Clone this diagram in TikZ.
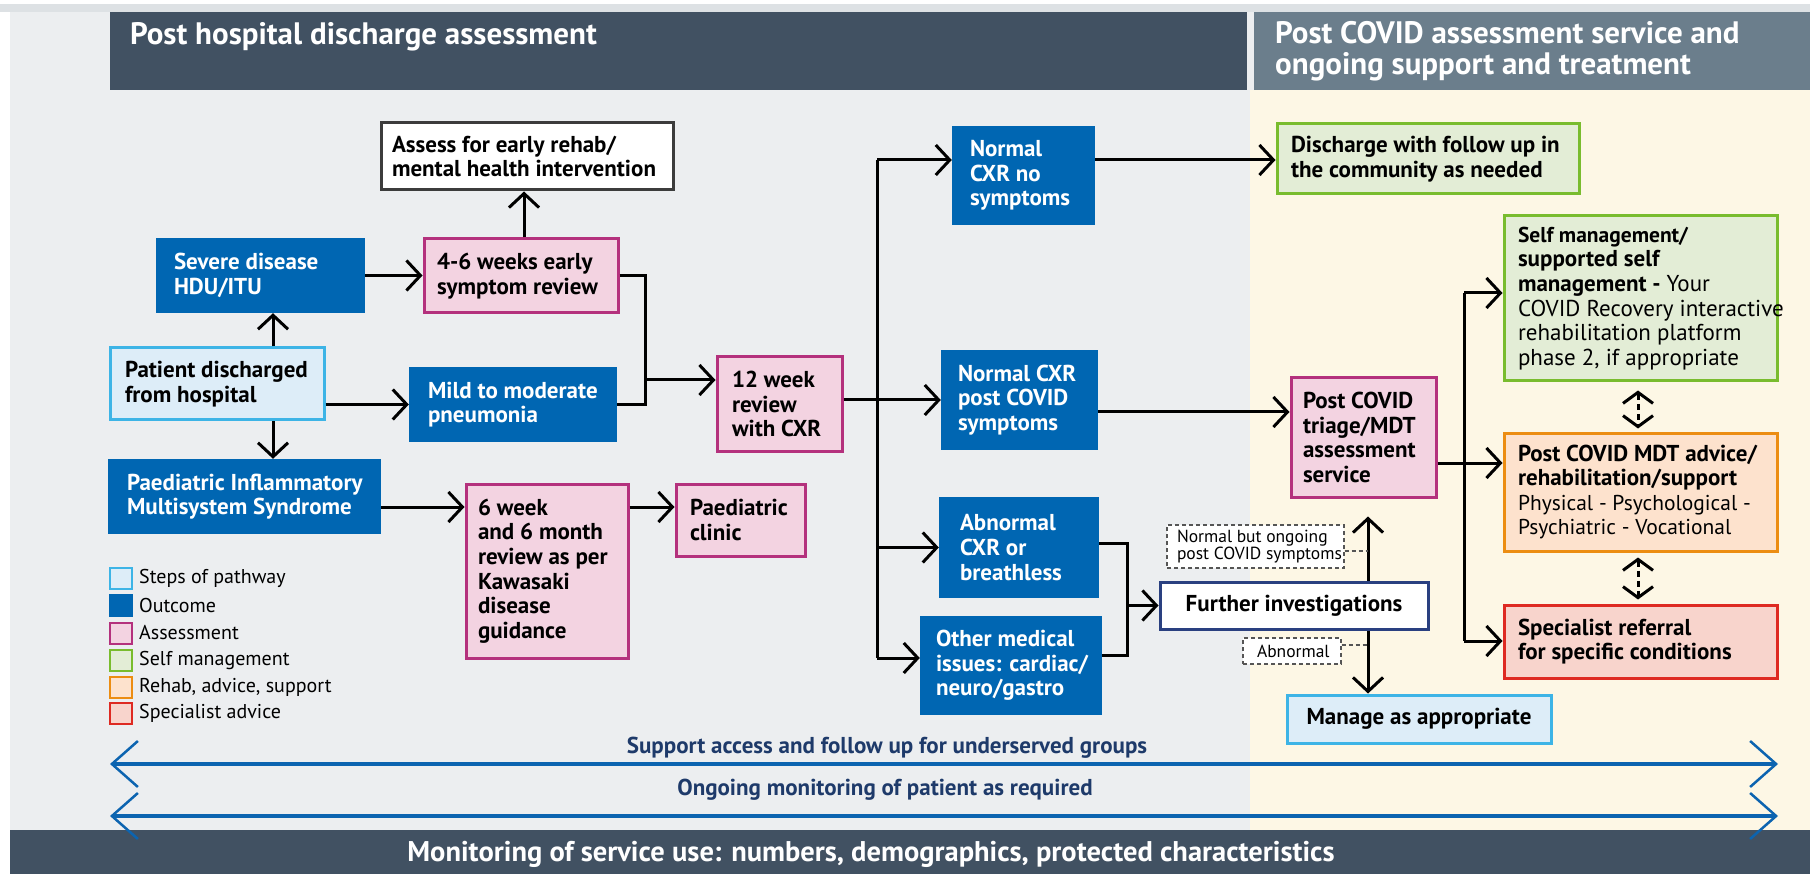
\documentclass[tikz,border=0pt]{standalone}
\usepackage{fontspec}
\setmainfont{PT Sans}
\usetikzlibrary{arrows.meta}
\definecolor{slate}{HTML}{415162}
\definecolor{slatetwo}{HTML}{6B7E8C}
\definecolor{bggrey}{HTML}{ECEEF0}
\definecolor{cream}{HTML}{FDF7E5}
\definecolor{topstrip}{HTML}{DDE1E4}
\definecolor{nhsblue}{HTML}{0066B2}
\definecolor{pinkf}{HTML}{F3D3E1}
\definecolor{pinkd}{HTML}{B4317D}
\definecolor{lbluef}{HTML}{DDEDF8}
\definecolor{lblued}{HTML}{3DB4E6}
\definecolor{greenf}{HTML}{E3EDD6}
\definecolor{greend}{HTML}{79BC2E}
\definecolor{orangef}{HTML}{FDE2CD}
\definecolor{oranged}{HTML}{EC8D12}
\definecolor{redf}{HTML}{F8D4CC}
\definecolor{redd}{HTML}{DE2A22}
\definecolor{navyd}{HTML}{2A4080}
\definecolor{greybd}{HTML}{3C3C3C}
\definecolor{dashgrey}{HTML}{555555}
\definecolor{arrowblue}{HTML}{0C64B0}
\definecolor{labelnavy}{HTML}{1E3A6A}
\newcommand\bxf{\fontsize{23}{24.6}\selectfont\bfseries}
\newcommand\rgf{\mdseries}
\newcommand\smf{\fontsize{21.5}{23.7}\selectfont\bfseries}
\newcommand\dlf{\fontsize{17.5}{15.5}\selectfont}
\newcommand\lgf{\fontsize{20}{20}\selectfont}
\newcommand\mybox[8]{%
  \pgfmathsetmacro\mbw{#5-#3}%
  \pgfmathsetmacro\mbh{#6-#4}%
  \pgfmathsetmacro\mbx{(#3+#5)/2}%
  \pgfmathsetmacro\mby{(#4+#6)/2}%
  \node[#1, inner sep=0pt, minimum width=\mbw pt, minimum height=\mbh pt] (#2) at (\mbx,\mby) {};
  \node[#1, fill=none, draw=none, inner sep=0pt, anchor=west, align=left] (#2-t) at ([xshift=#7pt]#2.west) {#8};}
\tikzset{
 basebx/.style={font=\bxf, text=black},
 outc/.style={basebx, fill=nhsblue, text=white},
 assessbx/.style={basebx, fill=pinkf, draw=pinkd, line width=3pt},
 stepbx/.style={basebx, fill=lbluef, draw=lblued, line width=3pt},
 selfbx/.style={basebx, fill=greenf, draw=greend, line width=3pt},
 rehabbx/.style={basebx, fill=orangef, draw=oranged, line width=3pt},
 specbx/.style={basebx, fill=redf, draw=redd, line width=3pt},
 plainbx/.style={basebx, fill=white, draw=greybd, line width=3pt},
 invbx/.style={basebx, fill=white, draw=navyd, line width=3pt},
 dlab/.style={font=\dlf, text=black, fill=white, draw=dashgrey, line width=1.2pt, dash pattern=on 4pt off 3pt},
 conn/.style={draw=black, line width=3pt, -{Straight Barb[length=14pt,width=30pt]}},
 wire/.style={draw=black, line width=3pt},
 dwire/.style={draw=dashgrey, line width=1.2pt, dash pattern=on 4pt off 3pt},
 ddarr/.style={draw=black, line width=3pt, dash pattern=on 6pt off 4pt, {Straight Barb[length=11pt,width=30pt]}-{Straight Barb[length=11pt,width=30pt]}},
 bigarr/.style={draw=arrowblue, line width=4.5pt, {Straight Barb[length=26pt,width=46pt,line width=2.5pt]}-{Straight Barb[length=26pt,width=46pt,line width=2.5pt]}},
 bandlbl/.style={font=\fontsize{23}{24}\selectfont\bfseries, text=labelnavy},
 headtxt/.style={font=\fontsize{31}{33}\selectfont\bfseries, text=white, inner sep=0pt},
 lgsq/.style={minimum width=22pt, minimum height=21pt, inner sep=0pt, line width=2pt},
 lgtxt/.style={font=\lgf, anchor=west, inner sep=0pt}
}
\begin{document}
\begin{tikzpicture}[x=1pt,y=-1pt]
% backgrounds
\fill[white] (0,0) rectangle (1810,874);
\useasboundingbox (0,0) rectangle (1810,874);
\fill[topstrip] (0,4) rectangle (1810,12);
\fill[bggrey] (10,12) rectangle (1810,830);
\fill[cream] (1250,90) rectangle (1810,830);
\fill[slate] (110,12) rectangle (1247,90);
\fill[slatetwo] (1254,12) rectangle (1810,90);
\fill[slate] (10,830) rectangle (1810,874);
% headers
\node[headtxt, anchor=base west] (h1) at (130,45) {Post hospital discharge assessment};
\node[headtxt, anchor=base west] (h2) at (1275,44) {Post COVID assessment service and};
\node[headtxt, anchor=base west] (h3) at (1275,75) {ongoing support and treatment};
\node[headtxt, font=\fontsize{28.5}{30}\selectfont\bfseries, anchor=base] (foot) at (871,861) {Monitoring of service use: numbers, demographics, protected characteristics};
% boxes
\mybox{plainbx}{assess}{381}{123}{673}{190}{11}{Assess for early rehab/\\mental health intervention}
\mybox{outc}{severe}{156}{238}{365}{313}{18}{Severe disease\\HDU/ITU}
\mybox{assessbx}{early}{424}{239}{618}{313}{13}{4-6 weeks early\\symptom review}
\mybox{stepbx}{patient}{110}{348}{324}{420}{15}{Patient discharged\\from hospital}
\mybox{outc}{mild}{409}{367}{617}{442}{19}{Mild to moderate\\pneumonia}
\mybox{outc}{pims}{108}{459}{381}{534}{19}{Paediatric Inflammatory\\Multisystem Syndrome}
\mybox{assessbx}{sixwk}{466}{484}{628}{658}{12}{6 week\\and 6 month\\review as per\\Kawasaki\\disease\\guidance}
\mybox{assessbx}{paedclin}{676}{484}{805}{556}{14}{Paediatric\\clinic}
\mybox{assessbx}{twelve}{717}{357}{842}{451}{15}{12 week\\review\\with CXR}
\mybox{outc}{nocxr}{952}{126}{1095}{225}{18}{Normal\\CXR no\\symptoms}
\mybox{outc}{postcx}{941}{350}{1098}{450}{17}{Normal CXR\\post COVID\\symptoms}
\mybox{outc}{abn}{939}{497}{1099}{598}{21}{Abnormal\\CXR or\\breathless}
\mybox{outc}{other}{920}{616}{1102}{715}{16}{Other medical\\issues: cardiac/\\neuro/gastro}
\node[invbx, minimum width=268pt, minimum height=47pt, inner sep=0pt] (further) at (1294,605.5) {Further investigations};
\node[stepbx, minimum width=264pt, minimum height=48pt, inner sep=0pt] (manage) at (1419,719) {Manage as appropriate};
\mybox{selfbx}{disch}{1277}{124}{1579}{194}{14}{Discharge with follow up in\\the community as needed}
\mybox{selfbx}{selfm}{1504}{216}{1777}{381}{14}{\smf Self management/\\supported self\\management - {\rgf Your}\\{\rgf COVID Recovery interactive}\\{\rgf rehabilitation platform}\\{\rgf phase 2, if appropriate}}
\mybox{assessbx}{triage}{1291}{378}{1436}{497}{12}{Post COVID\\triage/MDT\\assessment\\service}
\mybox{rehabbx}{mdt}{1504}{433}{1777}{551}{14}{Post COVID MDT advice/\\rehabilitation/support\\{\fontsize{21.5}{24.6}\selectfont\rgf Physical - Psychological -}\\{\fontsize{21.5}{24.6}\selectfont\rgf Psychiatric - Vocational}}
\mybox{specbx}{specref}{1504}{605}{1777}{678}{14}{Specialist referral\\for specific conditions}
\mybox{dlab}{nbut}{1167}{525}{1344}{568}{10}{Normal but ongoing\\post COVID symptoms}
\mybox{dlab}{abnl}{1243}{638}{1341}{664}{14}{Abnormal}
% legend
\node[lgsq, fill=lbluef, draw=lblued] (lg1) at (121,578) {};
\node[lgsq, fill=nhsblue, draw=nhsblue] (lg2) at (121,605) {};
\node[lgsq, fill=pinkf, draw=pinkd] (lg3) at (121,633) {};
\node[lgsq, fill=greenf, draw=greend] (lg4) at (121,660) {};
\node[lgsq, fill=orangef, draw=oranged] (lg5) at (121,687) {};
\node[lgsq, fill=redf, draw=redd] (lg6) at (121,713) {};
\node[lgtxt] (lt1) at (139,578) {Steps of pathway};
\node[lgtxt] (lt2) at (139,605) {Outcome};
\node[lgtxt] (lt3) at (139,633) {Assessment};
\node[lgtxt] (lt4) at (139,660) {Self management};
\node[lgtxt] (lt5) at (139,687) {Rehab, advice, support};
\node[lgtxt] (lt6) at (139,713) {Specialist advice};
% coordinates
\coordinate (pvx) at (273,0);
\coordinate (evx) at (524,0);
\coordinate (j1) at (645,380);
\coordinate (r7) at (0,507);
\coordinate (bus1t) at (877,160);
\coordinate (bus1b) at (877,658);
\coordinate (c11) at (0,412);
\coordinate (brt) at (1127,543);
\coordinate (brb) at (1127,655);
\coordinate (fx) at (1368,0);
\coordinate (c15) at (0,463);
\coordinate (b2t) at (1464,293);
\coordinate (b2b) at (1464,641);
\coordinate (dx) at (1638,0);
\coordinate (c551) at (0,551);
\coordinate (c645) at (0,645);
% connectors left
\draw[conn] (severe.east) -- (severe.east -| early.west);
\draw[conn] (early.north -| evx) -- (assess.south -| evx);
\draw[conn] (patient.north -| pvx) -- (severe.south -| pvx);
\draw[conn] (patient.south -| pvx) -- (pims.north -| pvx);
\draw[conn] (patient.east |- mild.west) -- (mild.west);
\draw[wire] (early.east) -| (j1) |- (mild.east);
\draw[conn] (j1) -- (j1 -| twelve.west);
\draw[conn] (pims.east |- r7) -- (sixwk.west |- r7);
\draw[conn] (sixwk.east |- r7) -- (paedclin.west |- r7);
% middle
\draw[conn] (twelve.east |- postcx.west) -- (postcx.west);
\draw[wire] (bus1t) -- (bus1b);
\draw[conn] (bus1t) -- (bus1t -| nocxr.west);
\draw[conn] (bus1t |- abn.west) -- (abn.west);
\draw[conn] (bus1b) -- (bus1b -| other.west);
\draw[conn] (nocxr.east |- bus1t) -- (disch.west |- bus1t);
\draw[conn] (postcx.east |- c11) -- (triage.west |- c11);
\draw[wire] (abn.east |- brt) -- (brt) -- (brb) -- (other.east |- brb);
\draw[conn] (brt |- further.west) -- (further.west);
\draw[conn, shorten >=18pt] (further.north -| fx) -- (triage.south -| fx);
\draw[conn] (further.south -| fx) -- (manage.north -| fx);
\draw[dwire] (nbut.east |- c551) -- (fx |- c551);
\draw[dwire] (abnl.east |- c645) -- (fx |- c645);
% right
\draw[conn] (triage.east |- c15) -- (mdt.west |- c15);
\draw[wire] (b2t) -- (b2b);
\draw[conn] (b2t) -- (b2t -| selfm.west);
\draw[conn] (b2b) -- (b2b -| specref.west);
\draw[ddarr, shorten <=8pt, shorten >=3pt] (selfm.south -| dx) -- (mdt.north -| dx);
\draw[ddarr, shorten <=5pt, shorten >=4pt] (mdt.south -| dx) -- (specref.north -| dx);
% band arrows
\coordinate (a1l) at (110,764);
\coordinate (a1r) at (1778,764);
\coordinate (a2l) at (110,816);
\coordinate (a2r) at (1778,816);
\draw[bigarr] (a1l) -- (a1r);
\draw[bigarr] (a2l) -- (a2r);
\node[bandlbl] (bl1) at (887,748) {Support access and follow up for underserved groups};
\node[bandlbl] (bl2) at (885,790) {Ongoing monitoring of patient as required};
\end{tikzpicture}
\end{document}
